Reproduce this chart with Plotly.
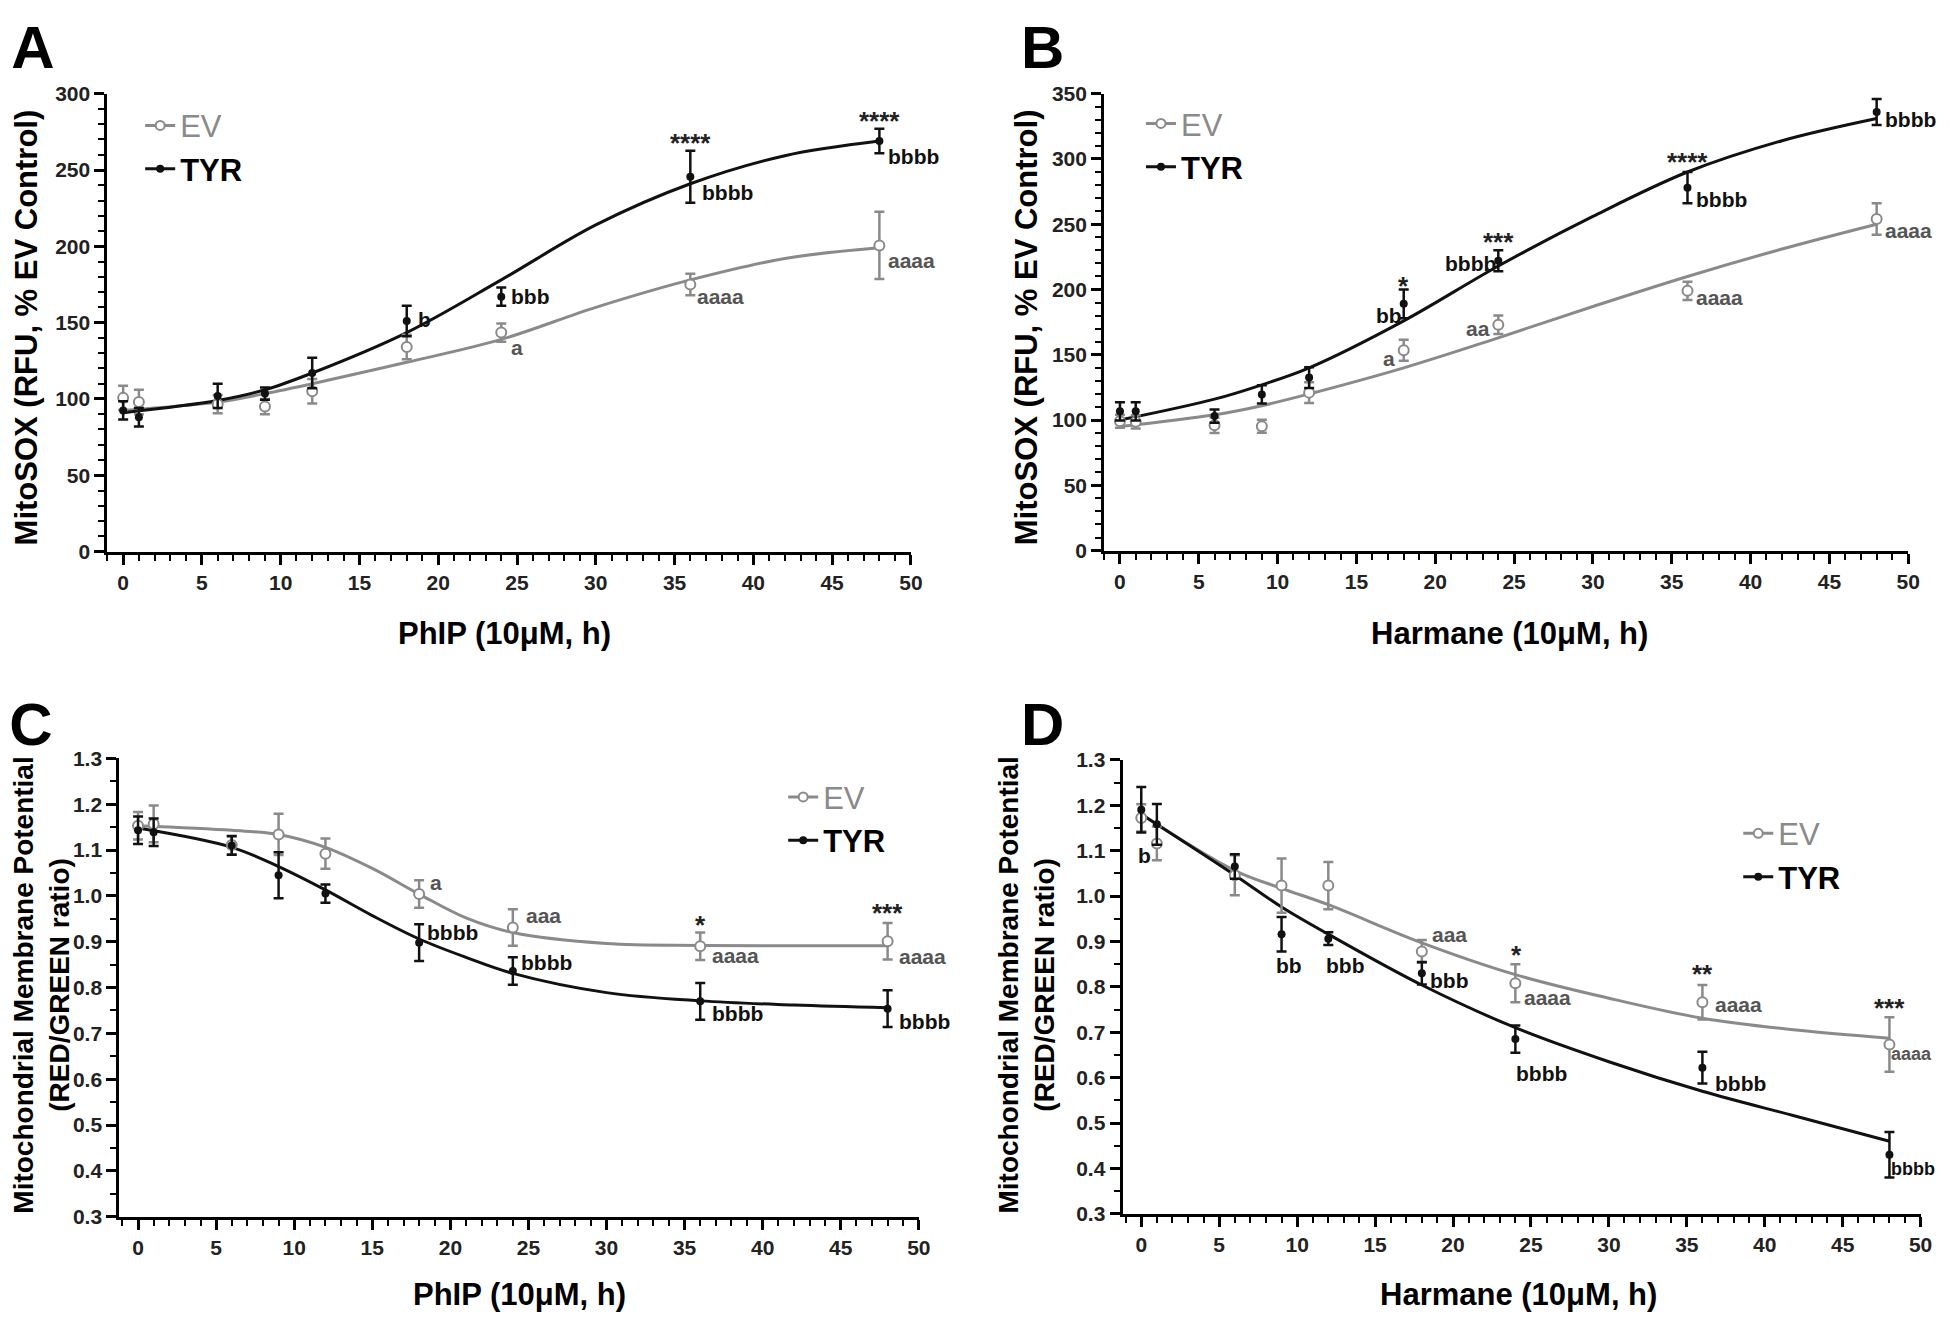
import plotly.graph_objects as go

FONT = "Arial, 'Liberation Sans', sans-serif"
EV_COLOR = "#8a8a8a"
EV_TXT = "#555555"
TYR_COLOR = "#111111"
OFF = 8                          # default body margin of the html page
W, H = 1951 - OFF, 1327 - OFF

# ---------------- data ----------------
time_h = [0, 1, 6, 9, 12, 18, 24, 36, 48]
x_ticks = [0, 5, 10, 15, 20, 25, 30, 35, 40, 45, 50]

# Panel A: MitoSOX, PhIP
a_ev = [100.7, 98, 96.6, 95, 105, 134, 143.5, 175, 200.6]
a_ev_err = [8, 8, 6, 5, 8, 8, 6, 7, 22]
a_tyr = [92.5, 88, 102, 103.5, 117, 151, 167, 245.6, 269]
a_tyr_err = [6, 6, 8, 4, 10, 10, 6, 17, 8]
a_fit_x = [0, 6, 9, 12, 18, 24, 30, 36, 42, 48]
a_fit_ev = [92.5, 98, 103.5, 110, 124, 139, 160, 178, 192, 199]
a_fit_tyr = [91, 99, 106, 117, 143.5, 178, 214, 241, 259.4, 269]

# Panel B: MitoSOX, Harmane
b_ev = [99, 98.6, 96, 95.3, 121, 153.5, 173, 199, 254]
b_ev_err = [5, 5, 6, 5, 8, 8, 7, 7, 12]
b_tyr = [106.7, 106.7, 103, 119.6, 132.5, 189, 222, 278, 336]
b_tyr_err = [7, 7, 5, 7, 8, 11, 8, 12, 10]
b_fit_x = [0, 6, 9, 12, 18, 24, 30, 36, 42, 48]
b_fit_ev = [95, 104, 111, 120, 140, 163, 187, 210, 231, 250]
b_fit_tyr = [100, 116, 127, 140, 176, 218, 256, 290, 314, 331]

# Panel C: membrane potential, PhIP
c_ev = [1.153, 1.157, 1.111, 1.134, 1.092, 1.004, 0.931, 0.89, 0.901]
c_ev_err = [0.03, 0.04, 0.02, 0.045, 0.033, 0.03, 0.04, 0.03, 0.04]
c_tyr = [1.143, 1.139, 1.11, 1.045, 1.005, 0.898, 0.836, 0.77, 0.754]
c_tyr_err = [0.03, 0.03, 0.02, 0.05, 0.02, 0.04, 0.03, 0.04, 0.04]
c_fit_x = [0, 6, 9, 12, 15, 18, 21, 24, 30, 36, 42, 48]
c_fit_ev = [1.153, 1.143, 1.134, 1.106, 1.06, 1.004, 0.952, 0.92, 0.896, 0.892, 0.891, 0.891]
c_fit_tyr = [1.148, 1.106, 1.064, 1.013, 0.957, 0.906, 0.866, 0.831, 0.789, 0.771, 0.762, 0.756]

# Panel D: membrane potential, Harmane
d_ev = [1.172, 1.116, 1.046, 1.023, 1.023, 0.878, 0.808, 0.766, 0.673]
d_ev_err = [0.03, 0.037, 0.044, 0.06, 0.052, 0.025, 0.042, 0.038, 0.06]
d_tyr = [1.19, 1.158, 1.065, 0.916, 0.906, 0.83, 0.685, 0.622, 0.43]
d_tyr_err = [0.05, 0.045, 0.027, 0.038, 0.014, 0.025, 0.03, 0.035, 0.05]
d_fit_x = [0, 6, 9, 12, 18, 24, 30, 36, 42, 48]
d_fit_ev = [1.18, 1.056, 1.017, 0.981, 0.897, 0.827, 0.775, 0.731, 0.705, 0.687]
d_fit_tyr = [1.18, 1.046, 0.976, 0.916, 0.804, 0.71, 0.635, 0.57, 0.515, 0.46]

# significance labels: (x, y, text, anchor, group)
ann_a = [(36, 272, "****", "center", "s"), (48, 287, "****", "center", "s"),
         (36.6, 235, "bbbb", "left", "b"), (48.4, 259, "bbbb", "left", "b"),
         (48.4, 191, "aaaa", "left", "a"), (36.3, 167, "aaaa", "left", "a"),
         (24.5, 167, "bbb", "left", "b"), (18.6, 152, "b", "left", "b"),
         (24.5, 134, "a", "left", "a")]
ann_b = [(48, 359, "****", "center", "s"), (36, 303, "****", "center", "s"),
         (24, 242, "***", "center", "s"), (18, 208, "*", "center", "s"),
         (48.4, 330, "bbbb", "left", "b"), (36.4, 269, "bbbb", "left", "b"),
         (24, 220, "bbbb", "right", "b"), (18, 180, "bb", "right", "b"),
         (48.4, 245, "aaaa", "left", "a"), (36.4, 194, "aaaa", "left", "a"),
         (23.6, 170, "aa", "right", "a"), (17.6, 147, "a", "right", "a")]
ann_c = [(18.6, 1.03, "a", "left", "a"), (24.7, 0.957, "aaa", "left", "a"),
         (36.6, 0.871, "aaaa", "left", "a"), (48.6, 0.868, "aaaa", "left", "a"),
         (36, 0.952, "*", "center", "s"), (48, 0.977, "***", "center", "s"),
         (18.4, 0.92, "bbbb", "left", "b"), (24.4, 0.855, "bbbb", "left", "b"),
         (36.6, 0.743, "bbbb", "left", "b"), (48.6, 0.726, "bbbb", "left", "b")]
ann_d = [(0.2, 1.09, "b", "center", "b"), (9.5, 0.846, "bb", "center", "b"),
         (13.1, 0.846, "bbb", "center", "b"), (18.5, 0.916, "aaa", "left", "a"),
         (18.4, 0.815, "bbb", "left", "b"), (24.1, 0.886, "*", "center", "s"),
         (24.4, 0.776, "aaaa", "left", "a"), (23.9, 0.61, "bbbb", "left", "b"),
         (36, 0.843, "**", "center", "s"), (36.7, 0.762, "aaaa", "left", "a"),
         (36.7, 0.587, "bbbb", "left", "b"), (48, 0.769, "***", "center", "s"),
         (48.0, 0.653, "aaaa", "left", "a"), (48.0, 0.398, "bbbb", "left", "b")]

panel_letters = ["A", "B", "C", "D"]

# ---------------- layout geometry (pixels, as seen in the window) ----------------
panels = [
    dict(key="", xd=(108, 916.5), yd=(83, 549), xr=[-1, 50], yr=[0, 300], dt=50, mdt=10, fmt="",
         ev=a_ev, eve=a_ev_err, ty=a_tyr, tye=a_tyr_err, fx=a_fit_x, fev=a_fit_ev, fty=a_fit_tyr,
         ann=ann_a, edge_font=21, leg=(141, 137.5), letter=(33, 42),
         xt=("PhIP (10μM, h)", 508, 632), yt=("MitoSOX (RFU, % EV Control)", 27, 321)),
    dict(key="2", xd=(1111, 1920), yd=(83, 548), xr=[-1, 50], yr=[0, 350], dt=50, mdt=10, fmt="",
         ev=b_ev, eve=b_ev_err, ty=b_tyr, tye=b_tyr_err, fx=b_fit_x, fev=b_fit_ev, fty=b_fit_tyr,
         ann=ann_b, edge_font=21, leg=(1148, 135.5), letter=(1049, 42),
         xt=("Harmane (10μM, h)", 1519, 632), yt=("MitoSOX (RFU, % EV Control)", 1033, 321)),
    dict(key="3", xd=(120, 924.5), yd=(759.5, 1226), xr=[-1.2, 50], yr=[0.3, 1.3], dt=0.1, mdt=0.05, fmt=".1f",
         ev=c_ev, eve=c_ev_err, ty=c_tyr, tye=c_tyr_err, fx=c_fit_x, fev=c_fit_ev, fty=c_fit_tyr,
         ann=ann_c, edge_font=21, leg=(788, 821), letter=(31, 731),
         xt=("PhIP (10μM, h)", 523, 1305),
         yt=("Mitochondrial Membrane Potential<br>(RED/GREEN ratio)", 42, 990)),
    dict(key="4", xd=(1129.5, 1932.5), yd=(761, 1223), xr=[-1.2, 50], yr=[0.3, 1.3], dt=0.1, mdt=0.05, fmt=".1f",
         ev=d_ev, eve=d_ev_err, ty=d_tyr, tye=d_tyr_err, fx=d_fit_x, fev=d_fit_ev, fty=d_fit_tyr,
         ann=ann_d, edge_font=18, leg=(1749, 858), letter=(1049, 731),
         xt=("Harmane (10μM, h)", 1528, 1305),
         yt=("Mitochondrial Membrane Potential<br>(RED/GREEN ratio)", 1033, 990)),
]


def px2fig(p):
    return p - OFF


def fx(px):
    return px2fig(px) / W


def fy(py):
    return 1 - px2fig(py) / H


fig = go.Figure()
annotations = []
layout = dict(width=W, height=H, margin=dict(l=0, r=0, t=0, b=0),
              paper_bgcolor="white", plot_bgcolor="rgba(0,0,0,0)",
              font=dict(family=FONT, color="black"), annotations=annotations)

for i, p in enumerate(panels):
    k = p["key"]
    xa, ya = "x" + k, "y" + k
    legname = "legend" + k
    fig.add_trace(go.Scatter(x=p["fx"], y=p["fev"], mode="lines", line=dict(color=EV_COLOR, width=3, shape="spline"),
                             xaxis=xa, yaxis=ya, showlegend=False, hoverinfo="skip"))
    fig.add_trace(go.Scatter(x=p["fx"], y=p["fty"], mode="lines", line=dict(color=TYR_COLOR, width=3, shape="spline"),
                             xaxis=xa, yaxis=ya, showlegend=False, hoverinfo="skip"))
    fig.add_trace(go.Scatter(x=time_h, y=p["ev"], mode="markers",
                             marker=dict(symbol="circle", size=10, color="white", line=dict(color=EV_COLOR, width=2)),
                             error_y=dict(type="data", array=p["eve"], color=EV_COLOR, thickness=2.5, width=5),
                             xaxis=xa, yaxis=ya, showlegend=False))
    fig.add_trace(go.Scatter(x=time_h, y=p["ty"], mode="markers",
                             marker=dict(symbol="circle", size=8, color=TYR_COLOR),
                             error_y=dict(type="data", array=p["tye"], color=TYR_COLOR, thickness=2.5, width=5),
                             xaxis=xa, yaxis=ya, showlegend=False))
    fig.add_trace(go.Scatter(x=[None], y=[None], mode="lines+markers", name='<span style="color:#8a8a8a">EV</span>',
                             line=dict(color=EV_COLOR, width=3),
                             marker=dict(symbol="circle", size=9, color="white", line=dict(color=EV_COLOR, width=2)),
                             xaxis=xa, yaxis=ya, legend=legname))
    fig.add_trace(go.Scatter(x=[None], y=[None], mode="lines+markers", name="<b>TYR</b>",
                             line=dict(color=TYR_COLOR, width=3),
                             marker=dict(symbol="circle", size=8, color=TYR_COLOR),
                             xaxis=xa, yaxis=ya, legend=legname))

    axis_common = dict(showgrid=False, zeroline=False, showline=True, linecolor="black", linewidth=3,
                       ticks="outside", tickcolor="black", tickwidth=2.5, ticklen=10,
                       tickfont=dict(family=FONT, size=21, weight="bold", color="#222"))
    layout["xaxis" + k] = dict(axis_common, domain=[fx(p["xd"][0]), fx(p["xd"][1])], range=p["xr"],
                               tickvals=x_ticks, anchor=ya,
                               minor=dict(dtick=1, tick0=0, ticks="outside", ticklen=6, tickwidth=2, tickcolor="black"))
    layout["yaxis" + k] = dict(axis_common, domain=[fy(p["yd"][1]), fy(p["yd"][0])], range=p["yr"],
                               dtick=p["dt"], tick0=p["yr"][0], tickformat=p["fmt"], anchor=xa,
                               minor=dict(dtick=p["mdt"], ticks="outside", ticklen=6, tickwidth=2, tickcolor="black"))
    layout[legname] = dict(x=fx(p["leg"][0]), y=fy(p["leg"][1]), xanchor="left", yanchor="middle",
                           bgcolor="rgba(0,0,0,0)", font=dict(family=FONT, size=31, color="black"),
                           itemwidth=30, tracegroupgap=0)

    for (ax_, ay_, txt, anc, grp) in p["ann"]:
        if grp == "s":
            annotations.append(dict(x=ax_, y=ay_, xref=xa, yref=ya, text=txt, showarrow=False,
                                    xanchor="center", yanchor="middle", yshift=-7,
                                    font=dict(family=FONT, size=26, color="#222", weight="bold")))
        else:
            size = p["edge_font"] if (anc == "left" and ax_ >= 48) else 21
            annotations.append(dict(x=ax_, y=ay_, xref=xa, yref=ya, text=txt, showarrow=False,
                                    xanchor=anc, yanchor="middle",
                                    font=dict(family=FONT, size=size, color=EV_TXT if grp == "a" else "#111",
                                              weight="bold")))
    t, tx, ty = p["xt"]
    annotations.append(dict(x=fx(tx), y=fy(ty), xref="paper", yref="paper", text=t, showarrow=False,
                            xanchor="center", yanchor="middle", font=dict(family=FONT, size=31, weight="bold")))
    t, tx, ty = p["yt"]
    annotations.append(dict(x=fx(tx), y=fy(ty), xref="paper", yref="paper", text=t, showarrow=False,
                            textangle=-90, xanchor="center", yanchor="middle",
                            font=dict(family=FONT, size=31 if i < 2 else 28, weight="bold")))

# panel letters drawn on an invisible full-page overlay axis (pixel units)
fig.add_trace(go.Scatter(x=[px2fig(p["letter"][0]) for p in panels], y=[px2fig(p["letter"][1]) for p in panels],
                         text=panel_letters, mode="text", textposition="middle center",
                         textfont=dict(family=FONT, size=60, weight="bold", color="black"),
                         xaxis="x5", yaxis="y5", showlegend=False, cliponaxis=False, hoverinfo="skip"))
layout["xaxis5"] = dict(domain=[0, 1], range=[0, W], visible=False, anchor="y5", fixedrange=True)
layout["yaxis5"] = dict(domain=[0, 1], range=[H, 0], visible=False, anchor="x5", fixedrange=True)

fig.update_layout(**layout)
fig.write_html("out.html")
